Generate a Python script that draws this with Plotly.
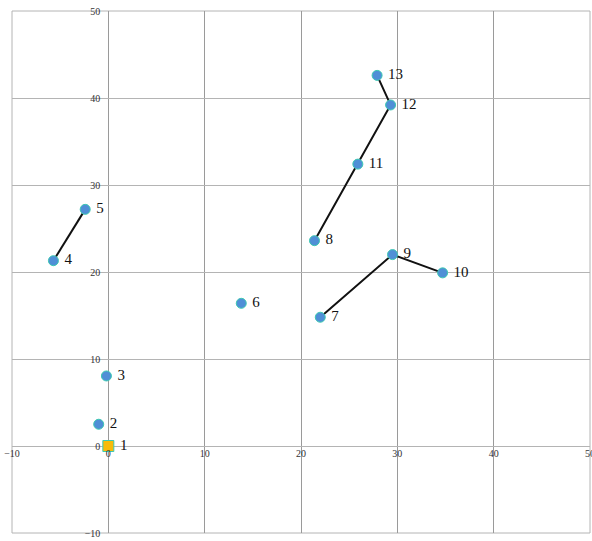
import plotly.graph_objects as go

# Numbered points
point_ids = [1, 2, 3, 4, 5, 6, 7, 8, 9, 10, 11, 12, 13]
x_vals = [0.0, -1.0, -0.2, -5.7, -2.4, 13.8, 22.0, 21.4, 29.5, 34.7, 25.9, 29.3, 27.9]
y_vals = [0.0, 2.5, 8.05, 21.3, 27.2, 16.4, 14.8, 23.6, 22.0, 19.9, 32.4, 39.2, 42.6]

# Connected chains of points (by id)
chains = [[4, 5], [7, 9, 10], [8, 11, 12, 13]]

axis_ticks = [-10, 0, 10, 20, 30, 40, 50]

fig = go.Figure()

# Connecting segments
lx, ly = [], []
for chain in chains:
    for pid in chain:
        i = point_ids.index(pid)
        lx.append(x_vals[i])
        ly.append(y_vals[i])
    lx.append(None)
    ly.append(None)
fig.add_trace(go.Scatter(x=lx, y=ly, mode="lines",
                         line=dict(color="#111111", width=2),
                         hoverinfo="skip", showlegend=False))

# Round markers with labels (all but the origin point)
fig.add_trace(go.Scatter(
    x=x_vals[1:], y=y_vals[1:], mode="markers+text",
    text=[" " + str(p) for p in point_ids[1:]],
    textposition="middle right",
    textfont=dict(family="Liberation Serif", size=15, color="#111111"),
    marker=dict(symbol="circle", size=10, color="#4f8fd6",
                line=dict(color="#3ccab2", width=1)),
    showlegend=False))

# Origin point drawn as a square
fig.add_trace(go.Scatter(
    x=x_vals[:1], y=y_vals[:1], mode="markers+text",
    text=[" " + str(point_ids[0])],
    textposition="middle right",
    textfont=dict(family="Liberation Serif", size=15, color="#111111"),
    marker=dict(symbol="square", size=11, color="#f7bb0a",
                line=dict(color="#3ccab2", width=1)),
    showlegend=False))

tick_font = dict(family="Liberation Serif", size=10, color="#333333")

# Frame around the plotting area
fig.add_shape(type="rect", xref="paper", yref="paper", x0=0, y0=0, x1=1, y1=1,
              line=dict(color="#b4b4b4", width=1), layer="below")

fig.update_layout(
    width=592, height=541,
    margin=dict(l=12, r=2, t=11, b=8),
    paper_bgcolor="white", plot_bgcolor="white",
    xaxis=dict(range=[-10, 50], tickvals=axis_ticks, showgrid=True,
               gridcolor="#9a9a9a", gridwidth=1, zeroline=False,
               showline=False, ticks="", tickfont=tick_font,
               anchor="free", position=1 / 6, ticklabeloverflow="allow",
               automargin=False),
    yaxis=dict(range=[-10, 50], tickvals=axis_ticks, showgrid=True,
               gridcolor="#b4b4b4", gridwidth=1, zeroline=False,
               showline=False, ticks="", tickfont=tick_font,
               anchor="free", position=1 / 6, ticklabeloverflow="allow",
               ticklabelstandoff=8, automargin=False),
)

fig.write_html("out.html")
